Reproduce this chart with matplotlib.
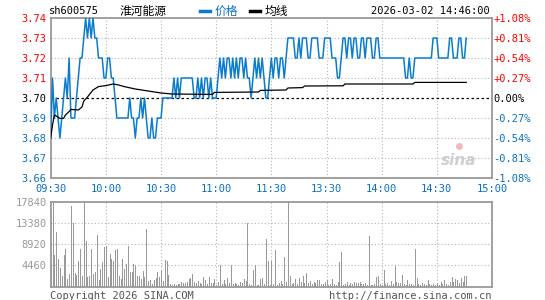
import matplotlib
matplotlib.use("Agg")
import matplotlib.pyplot as plt
from matplotlib.lines import Line2D

# minute prices from 09:30 (index 0) to 14:46
price = [
    3.68, 3.71, 3.69, 3.70, 3.69, 3.68, 3.69, 3.70, 3.71, 3.70,
    3.72, 3.69, 3.69, 3.69, 3.70, 3.71, 3.72, 3.72, 3.73, 3.74,
    3.73, 3.74, 3.73, 3.74, 3.73, 3.73, 3.72, 3.72, 3.72, 3.71,
    3.71, 3.72, 3.72, 3.71, 3.71, 3.70, 3.69, 3.69, 3.69, 3.69,
    3.69, 3.69, 3.69, 3.70, 3.69, 3.69, 3.68, 3.69, 3.69, 3.70,
    3.69, 3.70, 3.69, 3.68, 3.68, 3.69, 3.68, 3.68, 3.69, 3.69,
    3.69, 3.70, 3.70, 3.70, 3.70, 3.70, 3.70, 3.71, 3.70, 3.71,
    3.70, 3.71, 3.71, 3.71, 3.71, 3.71, 3.71, 3.71, 3.70, 3.70,
    3.71, 3.70, 3.71, 3.70, 3.71, 3.71, 3.70, 3.71, 3.70, 3.70,
    3.70, 3.71, 3.72, 3.71, 3.72, 3.71, 3.72, 3.72, 3.71, 3.72,
    3.71, 3.72, 3.71, 3.72, 3.72, 3.71, 3.72, 3.71, 3.71, 3.70,
    3.71, 3.72, 3.71, 3.72, 3.71, 3.72, 3.71, 3.70, 3.70, 3.71,
    3.72, 3.71, 3.72, 3.72, 3.71, 3.72, 3.72, 3.71, 3.72, 3.73,
    3.73, 3.73, 3.73, 3.72, 3.72, 3.73, 3.72, 3.73, 3.73, 3.73,
    3.72, 3.72, 3.73, 3.73, 3.73, 3.73, 3.72, 3.72, 3.72, 3.73,
    3.73, 3.73, 3.73, 3.72, 3.72, 3.72, 3.71, 3.71, 3.72, 3.73,
    3.73, 3.72, 3.73, 3.73, 3.72, 3.73, 3.73, 3.72, 3.72, 3.73,
    3.73, 3.72, 3.73, 3.73, 3.73, 3.72, 3.72, 3.73, 3.73, 3.72,
    3.72, 3.72, 3.72, 3.72, 3.72, 3.72, 3.72, 3.72, 3.72, 3.72,
    3.72, 3.72, 3.72, 3.71, 3.71, 3.72, 3.71, 3.71, 3.72, 3.72,
    3.72, 3.72, 3.72, 3.72, 3.72, 3.72, 3.72, 3.72, 3.73, 3.73,
    3.73, 3.72, 3.72, 3.72, 3.72, 3.72, 3.72, 3.73, 3.73, 3.72,
    3.72, 3.72, 3.73, 3.73, 3.72, 3.72, 3.73,
]

# average line vertices (minute index, price)
avg_x = [0, 1, 2, 3, 5, 7, 8, 10, 11, 15, 17, 18, 20, 23, 26, 30, 34, 37,
         40, 46, 53, 60, 66, 88, 89, 113, 114, 128, 129, 137, 138, 159, 160,
         197, 198, 226]
avg_y = [3.680, 3.6865, 3.6915, 3.691, 3.6898, 3.6898, 3.6915, 3.6932,
         3.6943, 3.694, 3.6955, 3.6985, 3.7005, 3.704, 3.7057, 3.7062, 3.707,
         3.7065, 3.7057, 3.7045, 3.7035, 3.7025, 3.702, 3.7018, 3.7028, 3.703,
         3.7038, 3.704, 3.705, 3.7052, 3.706, 3.7061, 3.707, 3.707, 3.7078,
         3.7078]

volume = [
    5200, 17500, 6600, 11500, 5700, 3800, 2200, 6600, 7800, 1500,
    2600, 17000, 13400, 2800, 2500, 5300, 7900, 2250, 17840, 9500,
    2050, 2250, 7800, 2600, 3100, 10900, 1300, 3700, 5200, 8300,
    8600, 2050, 6850, 5800, 5300, 7600, 7900, 2250, 1550, 5800,
    3700, 4700, 8600, 3100, 3000, 4700, 4600, 2250, 2250, 1550,
    3300, 1900, 12100, 1200, 1350, 500, 1350, 1800, 3000, 1900,
    3200, 1200, 5600, 5300, 2500, 500, 400, 450, 400, 500,
    600, 900, 800, 700, 900, 1500, 1800, 2700, 900, 800,
    1100, 700, 500, 1900, 1300, 600, 1900, 800, 700, 1500,
    400, 900, 4600, 600, 1300, 500, 1800, 800, 4600, 600,
    700, 500, 400, 900, 800, 1500, 1200, 13400, 500, 400,
    3500, 4600, 400, 300, 1500, 1800, 600, 9900, 5300, 400,
    5300, 500, 7600, 400, 700, 1200, 600, 6150, 900, 17700,
    2200, 600, 800, 1500, 500, 1700, 900, 2200, 700, 2800,
    800, 1100, 500, 900, 700, 1300, 1300, 600, 500, 900,
    1300, 400, 600, 1500, 500, 300, 900, 5100, 7150, 400,
    600, 1000, 400, 800, 500, 900, 700, 800, 900, 600,
    500, 700, 400, 10700, 400, 300, 500, 2000, 2200, 600,
    400, 3500, 500, 700, 400, 1200, 500, 4200, 900, 700,
    800, 2500, 600, 300, 1300, 500, 600, 400, 7900, 1700,
    600, 400, 700, 500, 300, 1300, 600, 400, 500, 300,
    700, 400, 900, 500, 1300, 600, 300, 1000, 2000, 900,
    1500, 1300, 700, 1800, 1000, 2200, 2200,
]

time_ticks = [0, 30, 60, 90, 120, 150, 180, 210, 240]
time_labels = ["09:30", "10:00", "10:30", "11:00", "11:30",
               "13:30", "14:00", "14:30", "15:00"]
price_ticks = [3.66, 3.67, 3.68, 3.69, 3.70, 3.71, 3.72, 3.73, 3.74]
pct_labels = ["-1.08%", "-0.81%", "-0.54%", "-0.27%", "0.00%",
              "+0.27%", "+0.54%", "+0.81%", "+1.08%"]
vol_ticks = [4460, 8920, 13380, 17840]
prev_close = 3.70

assert len(price) == len(volume)
minutes = list(range(len(price)))

BLUE = "#0a7ccc"
LBLUE = "#0a70c4"
RED = "#ff0000"
GRAY = "#999999"
GRID = "#b4b4b4"
MONO = "DejaVu Sans Mono"
CJK = ["Noto Sans CJK SC", "DejaVu Sans"]

W, H = 545, 300


def fx(x):
    return x / W


def fy(y):
    return 1 - y / H


def level_color(p):
    if abs(p - prev_close) < 1e-9:
        return "black"
    return RED if p > prev_close else LBLUE


fig = plt.figure(figsize=(W / 100, H / 100), dpi=100)
ax = fig.add_axes([fx(50.7), fy(178), (492 - 50.7) / W, 160 / H])
axv = fig.add_axes([fx(50.7), fy(286.5), (492 - 50.7) / W, 85 / H])

for a in (ax, axv):
    a.set_xlim(0, 240)
    for s in a.spines.values():
        s.set_color(GRAY)
        s.set_linewidth(1.3)
    a.set_xticks(time_ticks)
    a.tick_params(length=0)
    for t in time_ticks[1:-1]:
        a.axvline(t, color=GRID, lw=0.8, ls=(0, (1, 2)), zorder=1)

# price panel
ax.set_ylim(3.66, 3.74)
ax.set_yticks(price_ticks)
ax.set_yticklabels([f"{p:.2f}" for p in price_ticks], fontfamily=MONO, fontsize=7.5)
for p, lab in zip(price_ticks, ax.get_yticklabels()):
    lab.set_color(level_color(p))
ax.tick_params(axis="y", pad=3)
ax.set_xticklabels(time_labels, fontfamily=MONO, fontsize=7.5, color=LBLUE)
ax.tick_params(axis="x", pad=4.5)
for p in price_ticks[1:-1]:
    if abs(p - prev_close) < 1e-9:
        ax.axhline(p, color="black", lw=0.9, ls=(0, (2, 2)), zorder=1)
    else:
        ax.axhline(p, color=GRID, lw=0.8, ls=(0, (1, 2)), zorder=1)

ax.plot(minutes, price, color=BLUE, lw=1.1, zorder=3)
ax.plot(avg_x, avg_y, color="black", lw=0.9, zorder=4)

axr = ax.twinx()
axr.set_ylim(3.66, 3.74)
axr.set_yticks(price_ticks)
axr.set_yticklabels(pct_labels, fontfamily=MONO, fontsize=7.5)
for p, lab in zip(price_ticks, axr.get_yticklabels()):
    lab.set_color(level_color(p))
axr.tick_params(length=0, pad=1)
for s in axr.spines.values():
    s.set_visible(False)

ax.text(0.965, 0.11, "sina", transform=ax.transAxes, ha="right", va="center",
        fontsize=11, fontweight="bold", fontstyle="italic", color="#cfcfcf")
ax.plot([0.925], [0.2], "o", transform=ax.transAxes, ms=5, color="#f4b8b8", mew=0)

# volume panel
axv.vlines(minutes, 0, volume, colors=GRAY, lw=0.7, antialiased=False, zorder=3)
axv.set_ylim(0, 17840)
axv.set_yticks(vol_ticks)
axv.set_yticklabels([str(v) for v in vol_ticks], fontfamily=MONO, fontsize=7.5, color=GRAY)
axv.tick_params(axis="y", pad=3)
axv.set_xticklabels([])
for v in vol_ticks[:-1]:
    axv.axhline(v, color=GRID, lw=0.8, ls=(0, (1, 2)), zorder=1)

# header
fig.text(fx(49), fy(11), "sh600575", fontfamily=MONO, fontsize=7.5, va="center")
fig.text(fx(120), fy(11), "淮河能源", family=CJK, fontsize=8.5, va="center")
fig.add_artist(Line2D([fx(200), fx(210)], [fy(11), fy(11)], color=BLUE, lw=2.5,
                      transform=fig.transFigure))
fig.text(fx(215), fy(11), "价格", family=CJK, fontsize=8.5, va="center", color=LBLUE)
fig.add_artist(Line2D([fx(250), fx(260)], [fy(11), fy(11)], color="black", lw=2.5,
                      transform=fig.transFigure))
fig.text(fx(265), fy(11), "均线", family=CJK, fontsize=8.5, va="center")
fig.text(fx(490), fy(11), "2026-03-02 14:46:00", fontfamily=MONO, fontsize=7.5,
         va="center", ha="right")

# footer
fig.text(fx(50), fy(296), "Copyright 2026 SINA.COM", fontfamily=MONO, fontsize=7.5,
         va="center", color="#555555")
fig.text(fx(491), fy(296), "http://finance.sina.com.cn", fontfamily=MONO, fontsize=7.5,
         va="center", ha="right", color="#555555")

fig.savefig("out.png", dpi=100, facecolor="white")
